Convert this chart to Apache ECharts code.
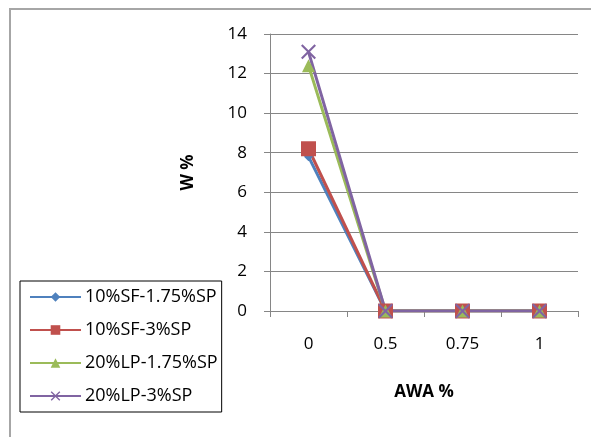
<!DOCTYPE html>
<html><head><meta charset="utf-8">
<script src="https://cdn.jsdelivr.net/npm/echarts@6/dist/echarts.min.js"></script>
<style>html,body{margin:0;padding:0;background:#fff}#c{width:591px;height:437px}</style>
</head><body><div id="c"></div>
<script>
var categories = ['0', '0.5', '0.75', '1'];
var seriesNames = ['10%SF-1.75%SP', '10%SF-3%SP', '20%LP-1.75%SP', '20%LP-3%SP'];
var sf175 = [7.8, 0, 0, 0];
var sf3 = [8.2, 0, 0, 0];
var lp175 = [12.4, 0, 0, 0];
var lp3 = [13.1, 0, 0, 0];
var yTicks = [0, 2, 4, 6, 8, 10, 12, 14];

var FONT = 'Open Sans';
var XPATH = 'path://M0,1L1,0L5,4L9,0L10,1L6,5L10,9L9,10L5,6L1,10L0,9L4,5Z';
var chart = echarts.init(document.getElementById('c'));
function mk(name, data, color, symbol, size) {
  return {
    name: name, type: 'line', data: data,
    symbol: symbol, symbolSize: size,
    lineStyle: { color: color, width: 3 },
    itemStyle: { color: color, borderWidth: 0 },
    emphasis: { disabled: true },
    animation: false
  };
}
chart.setOption({
  animation: false,
  graphic: [{
    type: 'rect', shape: { x: 10, y: 9, width: 600, height: 460 },
    style: { fill: 'none', stroke: '#a6a6a6', lineWidth: 2 }, silent: true, z: -1
  }],
  grid: { left: 270, right: 13, top: 34, bottom: 126 },
  legend: {
    orient: 'vertical', left: 20, top: 281,
    padding: [7, 4, 7, 9], itemGap: 15,
    borderColor: '#000', borderWidth: 1,
    itemWidth: 51, itemHeight: 12,
    textStyle: { fontFamily: FONT, fontSize: 18, color: '#000', padding: [0, 0, 0, -1] },
    data: seriesNames
  },
  xAxis: {
    type: 'category', data: categories, boundaryGap: true,
    name: 'AWA %', nameLocation: 'middle', nameGap: 73,
    nameTextStyle: { fontFamily: FONT, fontSize: 17, fontWeight: 'bold', color: '#000' },
    axisLine: { lineStyle: { color: '#868686', width: 1 } },
    axisTick: { show: true, length: 6, lineStyle: { color: '#868686' } },
    axisLabel: { fontFamily: FONT, fontSize: 17, color: '#000', margin: 25 }
  },
  yAxis: {
    type: 'value', min: 0, max: 14, interval: 2,
    name: 'W %', nameLocation: 'middle', nameGap: 73,
    nameTextStyle: { fontFamily: FONT, fontSize: 17, fontWeight: 'bold', color: '#000' },
    axisLine: { show: true, lineStyle: { color: '#868686', width: 1 } },
    axisTick: { show: true, length: 6, lineStyle: { color: '#868686' } },
    splitLine: { lineStyle: { color: '#868686', width: 1 } },
    axisLabel: { fontFamily: FONT, fontSize: 17, color: '#000', margin: 23,
      formatter: function (v) { return yTicks.indexOf(v) >= 0 ? String(v) : ''; } }
  },
  series: [
    mk(seriesNames[0], sf175, '#4F81BD', 'diamond', 9),
    mk(seriesNames[1], sf3, '#C0504D', 'rect', 15),
    mk(seriesNames[2], lp175, '#9BBB59', 'triangle', 13),
    mk(seriesNames[3], lp3, '#8064A2', XPATH, 15)
  ]
});
</script></body></html>
